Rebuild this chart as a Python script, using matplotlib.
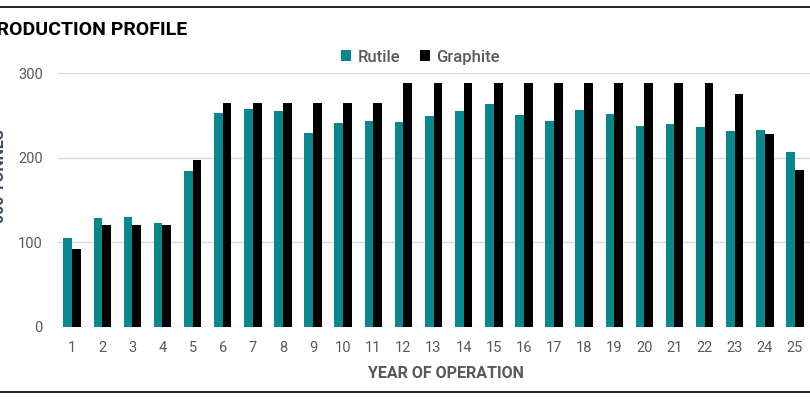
import matplotlib.pyplot as plt
import numpy as np
from matplotlib.lines import Line2D

plt.rcParams['font.family'] = ['Roboto', 'DejaVu Sans']

years = list(range(1, 26))
rutile = [105, 129, 130, 123, 184, 253, 257, 255, 229, 241, 243, 242, 249,
          255, 263, 250, 243, 256, 252, 238, 240, 236, 231, 233, 207]
graphite = [92, 120, 120, 120, 197, 264, 264, 264, 264, 264, 264, 288, 288,
            288, 288, 288, 288, 288, 288, 288, 288, 288, 275, 228, 185]

teal = "#0a878c"
grey = "#595959"

fig = plt.figure(figsize=(8.1, 3.99), dpi=100)
ax = fig.add_axes([0.0716, 0.1805, 0.9284, 0.6365])

x = np.array(years)
w = 0.29
ax.bar(x - w / 2, rutile, w, color=teal, label="Rutile")
ax.bar(x + w / 2, graphite, w, color="black", label="Graphite")

ax.set_xlim(0.53, 25.5)
ax.set_ylim(0, 300)
ax.set_yticks([0, 100, 200, 300])
ax.set_xticks(years)
ax.grid(axis="y", color="#d9d9d9", linewidth=1)
ax.set_axisbelow(True)
for s in ax.spines.values():
    s.set_visible(False)
ax.tick_params(length=0, colors=grey, labelsize=10.5)
ax.tick_params(axis="x", pad=10)
ax.tick_params(axis="y", pad=11)

ax.set_xlabel("YEAR OF OPERATION", color=grey, fontsize=11.5,
              fontweight="bold")
ax.xaxis.set_label_coords(0.516, -0.155)

# y label sits mostly off the left edge, as in the source
fig.text(7 / 810, 1 - 176 / 399, "000 TONNES", rotation=90, color="#3b4a66",
         fontsize=11.5, fontweight="bold", ha="right", va="center")

fig.legend(loc="center", bbox_to_anchor=(0.519, 0.857), ncol=2, frameon=False,
           prop={"size": 12, "weight": "medium"}, labelcolor=grey,
           handlelength=0.6, handleheight=0.6, handletextpad=0.35,
           columnspacing=1.2)

fig.text(-0.02, 0.925, "PRODUCTION PROFILE", fontsize=14,
         fontweight="bold", va="center", ha="left")

fig.add_artist(Line2D([0, 1], [0.982, 0.982], color="black", lw=1.2))
fig.add_artist(Line2D([0, 1], [0.017, 0.017], color="black", lw=1.2))

fig.savefig("out.png", dpi=100)
